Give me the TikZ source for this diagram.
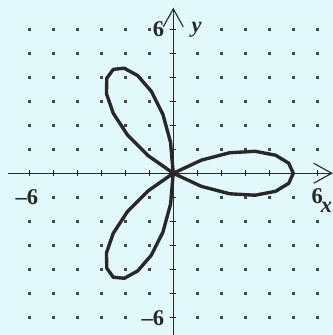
\documentclass[tikz,border=0pt]{standalone}
\usepackage{fontspec}
\setmainfont{Liberation Serif}
\usetikzlibrary{arrows.meta}
\usepackage{xcolor}
\definecolor{paper}{RGB}{226,249,252}
\definecolor{ink}{RGB}{40,40,40}

\begin{document}
\begin{tikzpicture}[
    x=0.6cm, y=0.6cm,
    axis/.style={ink, line width=0.8pt, -{Straight Barb[length=4.5mm, width=5mm, line width=0.8pt]}},
    tick/.style={ink, line width=0.8pt},
    gdot/.style={fill=ink!85, inner sep=0pt, minimum size=2.4pt, rectangle},
    rose/.style={ink, line width=2.4pt, line join=round},
    lbl/.style={ink, font=\fontsize{16}{18}\selectfont\bfseries, inner sep=0pt}
]

% paper and frame
\fill[paper] (-7.22,-6.74) rectangle (6.654,7.22);
\useasboundingbox (-7.22,-6.74) rectangle (6.654,7.22);

% dot grid (skip axes and the spots under labels)
\foreach \i in {-6,...,6} {
  \foreach \j in {-6,...,6} {
    \ifnum\i=0 \else \ifnum\j=0 \else
      \node[gdot] (d\i\j) at (\i,\j) {};
    \fi \fi
  }
}

% axes
\coordinate (xl) at (-6.88,0);
\coordinate (xr) at (6.65,0);
\coordinate (yb) at (0,-6.8);
\coordinate (yt) at (0,6.9);
\draw[axis] (xl) -- (xr);
\draw[axis] (yb) -- (yt);

% ticks
\foreach \k in {-6,...,-1,1,2,...,6} {
  \draw[tick] (\k,-0.13) -- (\k,0.13);
  \draw[tick] (-0.13,\k) -- (0.13,\k);
}

% the three-leaved rose r = 5 cos 3t
\draw[rose] plot[domain=0:180, samples=37] (\x:{5*cos(3*\x)}) -- cycle;

% labels
\node[lbl, fill=paper, inner sep=1pt] (ylab) at (0.97,6.0) {\itshape y};
\node[lbl] (ysix) at (-0.62,6.0) {6};
\node[lbl, fill=paper, inner sep=1pt] (ymsix) at (-0.85,-6.05) {–6};
\node[lbl, fill=paper, inner sep=1pt] (xmsix) at (-6.1,-0.98) {–6};
\node[lbl, fill=paper, inner sep=1pt] (xsix) at (6.0,-0.97) {6};
\node[lbl, anchor=east] (xlab) at (6.63,-1.4) {\itshape x};
\end{tikzpicture}
\end{document}
